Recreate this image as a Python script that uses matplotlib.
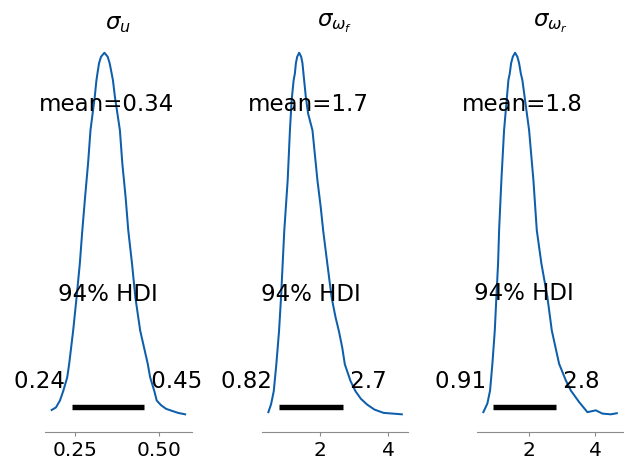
import numpy as np
import matplotlib
matplotlib.use("Agg")
import matplotlib.pyplot as plt

# posterior densities (relative height)
titles = [r"$\sigma_u$", r"$\sigma_{\omega_f}$", r"$\sigma_{\omega_r}$"]

u_x = [0.1815, 0.1941, 0.2059, 0.2156, 0.2274, 0.2332, 0.2450, 0.255, 0.2647,
       0.272, 0.2803, 0.2891, 0.2962, 0.3088, 0.3138, 0.3168, 0.3215, 0.3274,
       0.3374, 0.3471, 0.3529, 0.3588, 0.3626, 0.3685, 0.3832, 0.3903, 0.4000,
       0.408, 0.419, 0.429, 0.4432, 0.4656, 0.4726, 0.485, 0.4921, 0.505,
       0.52, 0.539, 0.555, 0.576]
u_d = [0.014, 0.021, 0.040, 0.066, 0.104, 0.141, 0.233, 0.324, 0.418,
       0.509, 0.602, 0.695, 0.786, 0.878, 0.924, 0.943, 0.971, 0.989,
       1.0, 0.989, 0.971, 0.943, 0.924, 0.878, 0.786, 0.695, 0.602,
       0.509, 0.418, 0.324, 0.233, 0.141, 0.104, 0.066, 0.040, 0.027,
       0.017, 0.011, 0.006, 0.002]

wf_x = [0.501, 0.580, 0.658, 0.733, 0.812, 0.870, 0.965, 1.064, 1.130, 1.180,
        1.238, 1.275, 1.304, 1.342, 1.400, 1.458, 1.496, 1.525, 1.594, 1.661,
        1.788, 1.933, 2.029, 2.101, 2.223, 2.348, 2.464, 2.559, 2.658, 2.733,
        2.899, 3.043, 3.20, 3.383, 3.60, 3.864, 4.397]
wf_d = [0.008, 0.030, 0.066, 0.140, 0.232, 0.324, 0.509, 0.648, 0.786, 0.869,
        0.924, 0.943, 0.971, 0.989, 1.0, 0.989, 0.971, 0.943, 0.878, 0.832,
        0.786, 0.648, 0.574, 0.509, 0.417, 0.324, 0.269, 0.232, 0.186, 0.140,
        0.094, 0.066, 0.045, 0.029, 0.015, 0.006, 0.002]

wr_x = [0.622, 0.743, 0.824, 0.894, 0.966, 1.014, 1.065, 1.096, 1.165, 1.246,
        1.376, 1.418, 1.458, 1.509, 1.578, 1.647, 1.699, 1.750, 1.798, 2.0,
        2.130, 2.232, 2.371, 2.552, 2.684, 2.904, 3.106, 3.257, 3.507, 3.758,
        4.011, 4.210, 4.463, 4.644]
wr_d = [0.006, 0.030, 0.066, 0.140, 0.232, 0.324, 0.417, 0.509, 0.648, 0.786,
        0.924, 0.943, 0.971, 0.989, 1.0, 0.989, 0.971, 0.943, 0.924, 0.786,
        0.648, 0.509, 0.417, 0.324, 0.232, 0.140, 0.094, 0.066, 0.034, 0.006,
        0.011, 0.002, 0.0, 0.003]

means = [0.344, 1.66, 1.80]
hdi_low = [0.243, 0.82, 0.91]
hdi_high = [0.453, 2.69, 2.8]
xticks = [[0.25, 0.50], [2, 4], [2, 4]]

curves = [(u_x, u_d), (wf_x, wf_d), (wr_x, wr_d)]

line_color = "#0d5eab"
label_size = 16.5
tick_size = 14.5

fig = plt.figure(figsize=(6.34, 4.63), dpi=100)
lefts = [0.0710, 0.4128, 0.7519]

for i, (xs, ds) in enumerate(curves):
    ax = fig.add_axes([lefts[i], 0.0661, 0.2315, 0.859])
    ax.plot(xs, ds, color=line_color, lw=1.45, solid_joinstyle="round")
    plot_height = ax.get_ylim()[1]

    # hdi bar and labels
    ax.plot([hdi_low[i], hdi_high[i]], [plot_height * 0.02] * 2,
            lw=3.9, color="k", solid_capstyle="butt")
    ax.text(hdi_low[i], plot_height * 0.07, f"{hdi_low[i]:.2g} ",
            size=label_size, ha="right")
    ax.text(hdi_high[i], plot_height * 0.07, f" {hdi_high[i]:.2g}",
            size=label_size, ha="left")
    ax.text((hdi_low[i] + hdi_high[i]) / 2, plot_height * 0.3, "94% HDI",
            size=label_size, ha="center")
    ax.text(means[i], plot_height * 0.8, f"mean={means[i]:.2g}",
            size=label_size, ha="center")

    ax.set_title(titles[i], fontsize=label_size, pad=3)
    ax.set_yticks([])
    ax.set_xticks(xticks[i])
    ax.tick_params(axis="x", labelsize=tick_size, color="#8c8c8c", length=3)
    for side in ["left", "right", "top"]:
        ax.spines[side].set_visible(False)
    ax.spines["bottom"].set_color("#8c8c8c")

fig.savefig("out.png", dpi=100)
